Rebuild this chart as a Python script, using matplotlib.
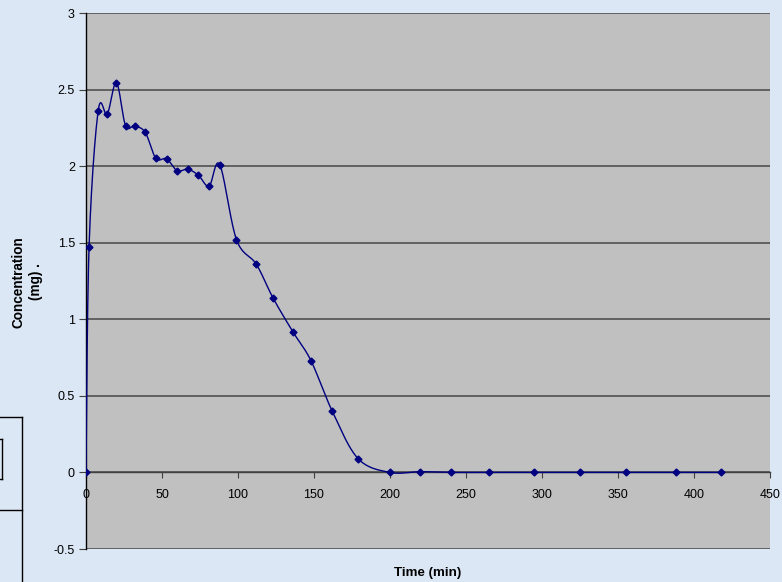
import numpy as np
import matplotlib.pyplot as plt
from matplotlib.lines import Line2D

plt.rcParams['font.family'] = ['Liberation Sans', 'DejaVu Sans']

# data
time_min = [0, 2, 8, 14, 20, 26, 32, 39, 46, 53, 60, 67, 74, 81, 88, 99,
            112, 123, 136, 148, 162, 179, 200, 220, 240, 265, 295, 325,
            355, 388, 418]
conc_mg = [0, 1.47, 2.36, 2.34, 2.546, 2.265, 2.262, 2.22, 2.05, 2.048,
           1.97, 1.98, 1.94, 1.87, 2.01, 1.52, 1.36, 1.14, 0.92, 0.73,
           0.40, 0.09, 0.0, 0.005, 0.0, 0.0, 0.0, 0.0, 0.0, 0.0, 0.0]
x_ticks = [0, 50, 100, 150, 200, 250, 300, 350, 400, 450]
y_ticks = [-0.5, 0, 0.5, 1, 1.5, 2, 2.5, 3]


def smooth(xs, ys, n=20):
    # Excel-like smoothed line: cubic bezier with Catmull-Rom control points
    p = np.column_stack([xs, ys]).astype(float)
    p = np.vstack([p[0], p, p[-1]])
    out = []
    for i in range(1, len(p) - 2):
        p0, p1, p2, p3 = p[i - 1], p[i], p[i + 1], p[i + 2]
        c1 = p1 + (p2 - p0) / 6
        c2 = p2 - (p3 - p1) / 6
        t = np.linspace(0, 1, n)[:, None]
        seg = ((1 - t) ** 3) * p1 + 3 * ((1 - t) ** 2) * t * c1 \
            + 3 * (1 - t) * t ** 2 * c2 + t ** 3 * p2
        out.append(seg)
    out = np.vstack(out)
    return out[:, 0], out[:, 1]


fig = plt.figure(figsize=(7.82, 5.82), dpi=100)
fig.patch.set_facecolor('#dbe7f4')
ax = fig.add_axes([86 / 782, 1 - 549 / 582, 684 / 782, 536 / 582])
ax.set_facecolor('#c0c0c0')

sx, sy = smooth(time_min, conc_mg)
ax.plot(sx, sy, color='#000080', lw=1.0, zorder=3)
ax.plot(time_min, conc_mg, ls='none', marker='D', ms=3.5,
        color='#000080', zorder=4)

ax.set_xlim(0, 450)
ax.set_ylim(-0.5, 3)
ax.set_xticks(x_ticks)
ax.set_yticks(y_ticks)
ax.set_yticklabels([f'{v:g}' for v in y_ticks])
ax.grid(axis='y', color='#5a5a5a', lw=1.3)
ax.set_axisbelow(True)

for s in ['top', 'right']:
    ax.spines[s].set_visible(False)
ax.spines['left'].set_color('black')
ax.spines['left'].set_linewidth(1.0)
ax.spines['bottom'].set_position(('data', 0))
ax.spines['bottom'].set_color('#404040')
ax.spines['bottom'].set_linewidth(1.0)
ax.tick_params(axis='x', direction='out', length=4, labelsize=9, pad=8,
               color='#404040')
ax.tick_params(axis='y', direction='out', length=5, labelsize=9, pad=3,
               color='#404040')

fig.text(27.5 / 782, 1 - 282 / 582, 'Concentration\n(mg) .', rotation=90,
         ha='center', va='center', fontsize=9.8, fontweight='bold',
         multialignment='center', linespacing=1.35)
fig.text(428 / 782, 1 - 573 / 582, 'Time (min)', ha='center', va='center',
         fontsize=9.6, fontweight='bold')

# partially visible box at the left edge
W, H = 782, 582
def fline(x0, y0, x1, y1):
    fig.add_artist(Line2D([x0 / W, x1 / W], [1 - y0 / H, 1 - y1 / H],
                          color='black', lw=1.0))
fline(0, 417, 22, 417)
fline(22, 417, 22, 582)
fline(0, 510, 22, 510)
fline(0, 439, 2, 439)
fline(2, 439, 2, 479)
fline(0, 479, 2, 479)

fig.savefig('out.png', dpi=100, facecolor=fig.get_facecolor())
